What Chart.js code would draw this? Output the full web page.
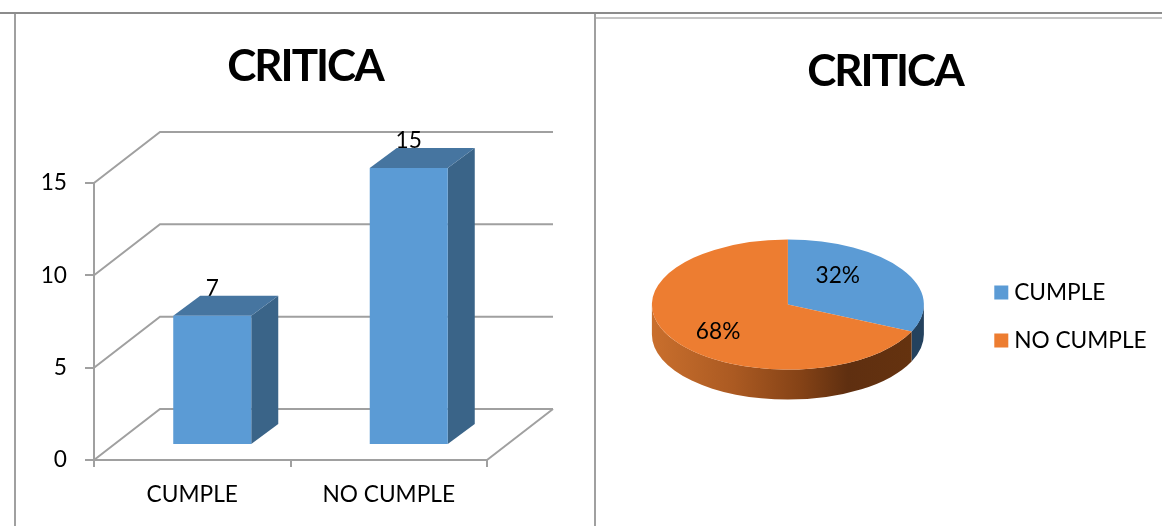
<!DOCTYPE html>
<html>
<head>
<meta charset="utf-8">
<title>CRITICA</title>
<script src="https://cdn.jsdelivr.net/npm/chart.js@4"></script>
<style>
  html, body { margin: 0; padding: 0; background: #fff; }
  body { position: relative; width: 1162px; height: 526px; overflow: hidden; }
  canvas { position: absolute; }
  #barChart { left: 15px; top: 15px; }
  #pieChart { left: 608px; top: 17px; }
  .rule { position: absolute; }
</style>
</head>
<body>
<div class="rule" style="left:0;top:12px;width:1162px;height:2px;background:#8c8c8c"></div>
<div class="rule" style="left:595px;top:17px;width:567px;height:2px;background:#c4c4c4"></div>
<div class="rule" style="left:14px;top:14px;width:2px;height:512px;background:#a0a0a0"></div>
<div class="rule" style="left:594px;top:14px;width:2px;height:512px;background:#a0a0a0"></div>
<canvas id="barChart" width="580" height="511"></canvas>
<canvas id="pieChart" width="554" height="509"></canvas>
<script>
var categories = ['CUMPLE', 'NO CUMPLE'];
var values = [7, 15];
var yTicks = [0, 5, 10, 15];
var chartTitle = 'CRITICA';

var fontFamily = 'Lato, Carlito, sans-serif';
var labelSize = 22.7;
var titleSize = 44;
var colors = { blue: '#5b9bd5', orange: '#ed7d31', grid: '#a0a0a0' };

// Lato runs wider than the original face, so tighten the title
function tightenTitle(chart) {
  var block = chart.titleBlock,
      draw = block.draw;
  block.draw = function() {
    chart.ctx.save();
    chart.ctx.letterSpacing = '-2px';
    draw.apply(block, arguments);
    chart.ctx.restore();
  };
}

// Bar chart, 3d look
//-----------------------------------------------------------------------------

var wallDepth = { x: 66, y: -51 };
var barOffset = { x: 20, y: -15 };
var barDepth = { x: 27, y: -20 };

function face(ctx, points, fill) {
  ctx.beginPath();
  points.forEach(function(p, i) {
    if (i === 0) ctx.moveTo(p[0], p[1]);
    else ctx.lineTo(p[0], p[1]);
  });
  ctx.closePath();
  ctx.fillStyle = fill;
  ctx.fill();
}

var bar3d = {
  id: 'bar3d',
  // the plot stops short of the canvas, the title still centers on all of it
  afterLayout: function(chart) {
    chart.titleBlock.left = 0;
    chart.titleBlock.right = chart.width;
    tightenTitle(chart);
  },
  beforeDatasetsDraw: function(chart) {
    var ctx = chart.ctx,
        area = chart.chartArea,
        yScale = chart.scales.y,
        bars = chart.getDatasetMeta(0).data;

    // walls and floor
    ctx.save();
    ctx.strokeStyle = colors.grid;
    ctx.lineWidth = 2;
    yScale.ticks.forEach(function(tick) {
      var y = yScale.getPixelForValue(tick.value);
      ctx.beginPath();
      ctx.moveTo(area.left, y);
      ctx.lineTo(area.left + wallDepth.x, y + wallDepth.y);
      ctx.lineTo(area.right + wallDepth.x, y + wallDepth.y);
      ctx.stroke();
    });
    ctx.beginPath();
    ctx.moveTo(area.right, area.bottom);
    ctx.lineTo(area.right + wallDepth.x, area.bottom + wallDepth.y);
    ctx.stroke();

    // value labels sit behind the bar tops
    ctx.fillStyle = '#000';
    ctx.font = labelSize + 'px ' + fontFamily;
    ctx.textAlign = 'center';
    ctx.textBaseline = 'middle';
    bars.forEach(function(bar, i) {
      ctx.fillText(values[i], bar.x + barOffset.x, bar.y + barOffset.y + barDepth.y - 7);
    });

    // side and top faces
    ctx.translate(barOffset.x, barOffset.y);
    bars.forEach(function(bar) {
      var l = bar.x - bar.width / 2,
          r = bar.x + bar.width / 2;
      face(ctx, [[r, bar.y], [r + barDepth.x, bar.y + barDepth.y],
                 [r + barDepth.x, bar.base + barDepth.y], [r, bar.base]], '#3a6488');
      face(ctx, [[l, bar.y], [l + barDepth.x, bar.y + barDepth.y],
                 [r + barDepth.x, bar.y + barDepth.y], [r, bar.y]], '#4675a0');
    });
    ctx.restore();

    ctx.save();
    ctx.translate(barOffset.x, barOffset.y);
  },
  afterDatasetsDraw: function(chart) {
    chart.ctx.restore();
  }
};

var barChart = new Chart(document.getElementById('barChart'), {
  type: 'bar',
  data: {
    labels: categories,
    datasets: [{
      data: values,
      backgroundColor: colors.blue,
      barPercentage: 0.397,
      categoryPercentage: 1,
      clip: false
    }]
  },
  options: {
    responsive: false,
    animation: false,
    layout: { padding: { right: 108 } },
    plugins: {
      legend: { display: false },
      tooltip: { enabled: false },
      title: {
        display: true,
        text: chartTitle,
        color: '#000',
        font: { family: fontFamily, size: titleSize, weight: 'bold', lineHeight: 1.2 },
        padding: { top: 25.6, bottom: 89.6 }
      }
    },
    scales: {
      x: {
        afterFit: function(scale) { scale.height = 66; },
        grid: { drawOnChartArea: false, color: colors.grid, lineWidth: 2, tickLength: 7 },
        border: { color: colors.grid, width: 2 },
        ticks: { color: '#000', padding: 14, maxRotation: 0, font: { family: fontFamily, size: labelSize } }
      },
      y: {
        min: 0,
        max: 15,
        afterFit: function(scale) { scale.width = 79; },
        afterBuildTicks: function(scale) {
          scale.ticks = yTicks.map(function(v) { return { value: v }; });
        },
        grid: { drawOnChartArea: false, color: colors.grid, lineWidth: 2, tickLength: 9 },
        border: { color: colors.grid, width: 2 },
        ticks: { color: '#000', padding: 18, font: { family: fontFamily, size: labelSize } }
      }
    }
  },
  plugins: [bar3d]
});

// Pie chart, tilted
//-----------------------------------------------------------------------------

var pieRadius = 136;
var pieTilt = 0.478;
var pieDepth = 30;
var pieShift = { x: -6, y: -12 };
var labelSpread = [[0.436, 0.83], [0.61, 0.775]];
var legendLeft = 366.5;
var legendDrop = 50;

function pieCenter(arc) {
  return { x: arc.x + pieShift.x, y: arc.y + pieShift.y };
}

var pie3d = {
  id: 'pie3d',
  afterLayout: function(chart) {
    chart.legend.left = legendLeft;
    chart.legend.top += legendDrop;
    chart.legend.bottom += legendDrop;
    tightenTitle(chart);
  },
  beforeDatasetsDraw: function(chart) {
    var ctx = chart.ctx,
        arcs = chart.getDatasetMeta(0).data,
        c = pieCenter(arcs[0]),
        ry = pieRadius * pieTilt;

    var sideFill = ctx.createLinearGradient(c.x - pieRadius, 0, c.x + pieRadius, 0);
    sideFill.addColorStop(0, '#c96f2d');
    sideFill.addColorStop(0.3, '#ab5a22');
    sideFill.addColorStop(0.55, '#844216');
    sideFill.addColorStop(0.72, '#5f2f10');
    sideFill.addColorStop(1, '#66330f');
    var fills = ['#24425e', sideFill];

    // only the front half of the rim shows
    arcs.forEach(function(arc, i) {
      var start = Math.max(arc.startAngle, 0),
          end = Math.min(arc.endAngle, Math.PI);
      if (end <= start) return;
      ctx.beginPath();
      ctx.ellipse(c.x, c.y, pieRadius, ry, 0, start, end);
      ctx.ellipse(c.x, c.y + pieDepth, pieRadius, ry, 0, end, start, true);
      ctx.closePath();
      ctx.fillStyle = fills[i];
      ctx.fill();
    });

    ctx.save();
    ctx.translate(c.x, c.y);
    ctx.scale(1, pieTilt);
    ctx.translate(-arcs[0].x, -arcs[0].y);
  },
  afterDatasetsDraw: function(chart) {
    var ctx = chart.ctx,
        arcs = chart.getDatasetMeta(0).data,
        total = values.reduce(function(a, b) { return a + b; }, 0);
    ctx.restore();

    var c = pieCenter(arcs[0]);
    ctx.save();
    ctx.fillStyle = '#000';
    ctx.font = labelSize + 'px ' + fontFamily;
    ctx.textAlign = 'center';
    ctx.textBaseline = 'middle';
    arcs.forEach(function(arc, i) {
      var mid = (arc.startAngle + arc.endAngle) / 2,
          x = c.x + pieRadius * labelSpread[i][0] * Math.cos(mid),
          y = c.y + pieRadius * pieTilt * labelSpread[i][1] * Math.sin(mid);
      ctx.fillText(Math.round(values[i] / total * 100) + '%', x, y);
    });
    ctx.restore();
  }
};

var pieChart = new Chart(document.getElementById('pieChart'), {
  type: 'pie',
  data: {
    labels: categories,
    datasets: [{
      data: values,
      backgroundColor: [colors.blue, colors.orange],
      borderWidth: 0,
      clip: false,
      radius: pieRadius
    }]
  },
  options: {
    responsive: false,
    animation: false,
    layout: { padding: { bottom: 10 } },
    plugins: {
      tooltip: { enabled: false },
      title: {
        display: true,
        text: chartTitle,
        color: '#000',
        font: { family: fontFamily, size: titleSize, weight: 'bold', lineHeight: 1.2 },
        padding: { top: 28.6, bottom: 18.8 }
      },
      legend: {
        position: 'right',
        labels: {
          color: '#000',
          boxWidth: 3,
          boxHeight: 3,
          padding: 25.3,
          font: { family: fontFamily, size: labelSize },
          // thick stroke around a small box keeps the swatch close to its text
          generateLabels: function(chart) {
            var items = Chart.overrides.pie.plugins.legend.labels.generateLabels(chart);
            items.forEach(function(item) {
              item.strokeStyle = item.fillStyle;
              item.lineWidth = 11;
              item.lineJoin = 'miter';
            });
            return items;
          }
        }
      }
    }
  },
  plugins: [pie3d]
});
</script>
</body>
</html>
